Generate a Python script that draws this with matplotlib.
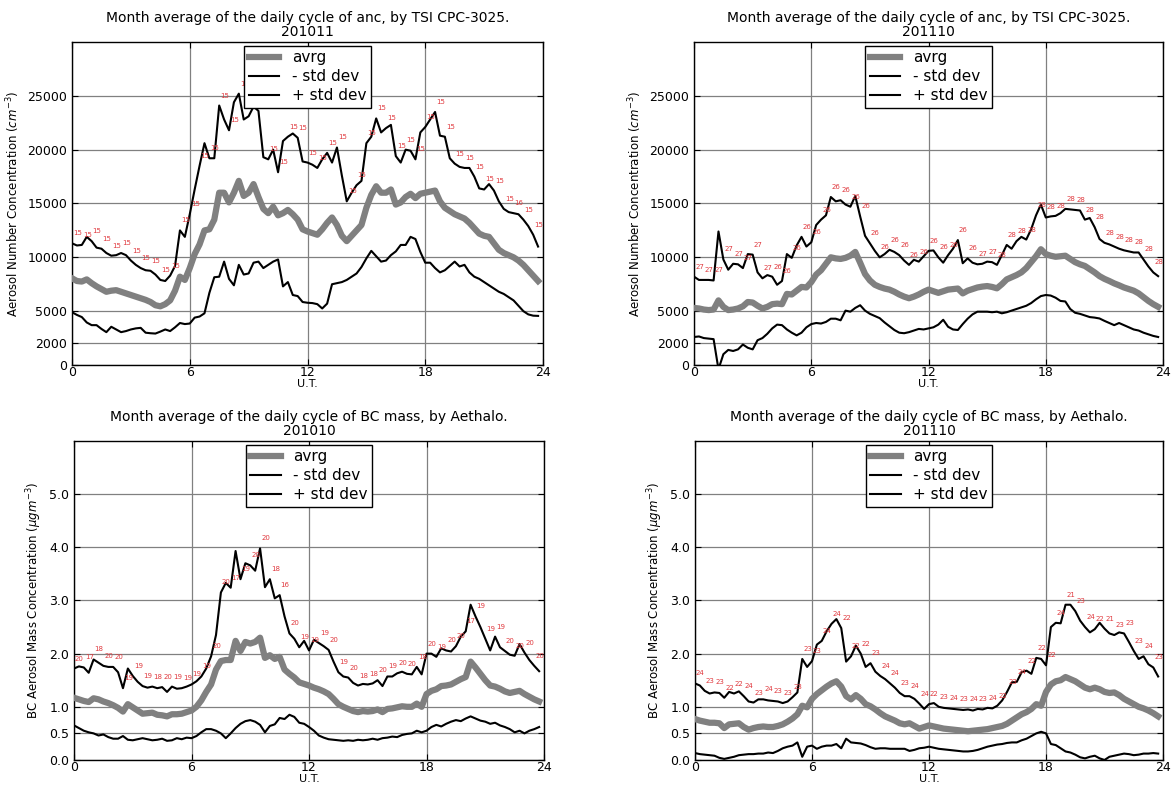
import numpy as np
import matplotlib
matplotlib.use('Agg')
import matplotlib.pyplot as plt

# time of day (U.T.), 15 min steps
hours = np.arange(96) * 0.25

# anc 201011 (TSI CPC-3025)
anc_201011_plus = [
    11300, 11100, 11150, 11900, 11500, 10900, 10800, 10400,
    10150, 10200, 10400, 10200, 9700, 9300, 9000, 8800,
    8750, 8400, 7900, 7800, 8300, 9200, 12500, 11900,
    14000, 16300, 18500, 20600, 19200, 19200, 24100, 22800,
    21800, 24400, 25200, 22800, 23100, 24000, 23600, 19300,
    19100, 20000, 17900, 20800, 21200, 21500, 21100, 18900,
    18800, 18600, 18300, 19100, 19700, 18800, 20200, 17600,
    15200, 16000, 16700, 17100, 20600, 21200, 22900, 21600,
    22000, 22300, 19400, 18800, 20000, 19900, 19100, 21600,
    22100, 22800, 23500, 21300, 21200, 19200, 18700, 18400,
    18300, 18300, 17500, 16400, 16300, 16800, 16200, 15200,
    14500, 14200, 14100, 14000, 13500, 12900, 12100, 11000]
anc_201011_avrg = [
    8050, 7800, 7750, 7950, 7600, 7300, 7050, 6800,
    6900, 6950, 6800, 6650, 6500, 6350, 6200, 6050,
    5850, 5550, 5450, 5650, 6000, 6900, 8200, 7900,
    9000, 10300, 11200, 12500, 12600, 13500, 16000, 16000,
    15100, 16000, 17100, 15700, 16000, 16800, 15600, 14500,
    14100, 14700, 13900, 14100, 14400, 14000, 13500, 12600,
    12400, 12250, 12100, 12600, 13200, 13700, 13000, 12000,
    11500, 12000, 12500, 13000, 14600, 15800, 16600, 16000,
    16000, 16300, 14900, 15100, 15600, 15900, 15500, 15900,
    16000, 16100, 16200, 15200, 14600, 14300, 14000, 13800,
    13600, 13200, 12700, 12200, 12000, 11900, 11300, 10700,
    10400, 10200, 10000, 9700, 9300, 8800, 8300, 7800]
anc_201011_minus = [
    4900, 4650, 4450, 3950, 3700, 3700, 3350, 3050,
    3550, 3300, 3050, 3150, 3300, 3400, 3450, 3000,
    2950, 2920, 3100, 3300, 3150, 3500, 3900, 3800,
    3850, 4400, 4500, 4800, 6700, 8150, 8200, 9600,
    8000, 7400, 9300, 8400, 8500, 9500, 9600, 9000,
    9300, 9600, 9800, 7300, 7700, 6500, 6400, 5850,
    5780, 5750, 5650, 5250, 5700, 7500, 7600, 7700,
    7900, 8200, 8500, 9100, 9900, 10600, 10100, 9600,
    9700, 10200, 10550, 11150, 11150, 11900, 11700, 10500,
    9500, 9500, 9000, 8600, 8800, 9200, 9600, 9150,
    9300, 8600, 8200, 8000, 7700, 7400, 7100, 6800,
    6600, 6300, 6000, 5500, 5000, 4700, 4580, 4560]
anc_201011_counts = [15] * 45 + [16, 15, 15]

# anc 201110
anc_201110_plus = [
    8200, 7900, 7900, 7900, 7850, 12400, 9800, 8850,
    9400, 9350, 9000, 10300, 10250, 8600, 8050, 8350,
    8200, 7450, 7800, 10300, 9950, 11100, 11900, 11000,
    11400, 13000, 13500, 13900, 15600, 15200, 15300, 14900,
    14700, 15700, 13800, 12000, 11300, 10600, 10000, 10300,
    10700, 10500, 10200, 9700, 9300, 9770, 9600, 10100,
    10600, 10640, 10000, 9500, 10200, 10800, 11600, 9450,
    9900, 9500, 9350, 9400, 9600, 9550, 9300, 10200,
    11150, 10800, 11500, 11900, 11650, 12600, 13900, 14900,
    13700, 13800, 13850, 14100, 14500, 14450, 14400, 14350,
    13500, 13650, 12800, 11700, 11350, 11200, 11000, 10800,
    10650, 10550, 10450, 10450, 9800, 9150, 8600, 8250]
anc_201110_avrg = [
    5300, 5250, 5150, 5100, 5150, 6000, 5400, 5100,
    5150, 5250, 5450, 5850, 5800, 5500, 5250, 5400,
    5650, 5700, 5650, 6600, 6550, 6900, 7250, 7200,
    7700, 8400, 8800, 9400, 10000, 9900, 9850, 9950,
    10150, 10500, 9500, 8450, 7850, 7450, 7250, 7100,
    7000, 6800, 6550, 6350, 6200, 6350, 6550, 6800,
    7000, 6850, 6700, 6850, 7000, 7050, 7100, 6650,
    6900, 7050, 7200, 7280, 7330, 7250, 7120, 7500,
    7950, 8150, 8350, 8600, 9000, 9550, 10100, 10750,
    10300, 10150, 10050, 10100, 10150, 9850, 9550, 9350,
    9200, 8900, 8600, 8250, 8000, 7800, 7580, 7400,
    7200, 7050, 6900, 6650, 6300, 5950, 5650, 5400]
anc_201110_minus = [
    2600, 2650, 2500, 2450, 2400, -400, 1000, 1400,
    1300, 1450, 1900, 1600, 1450, 2300, 2500, 2900,
    3400, 3750, 3700, 3300, 3000, 2750, 3000, 3500,
    3800, 3900, 3850, 4000, 4300, 4300, 4150, 5050,
    4950, 5300, 5550, 5050, 4750, 4550, 4350, 3950,
    3600, 3250, 3000, 2950, 3050, 3200, 3350, 3300,
    3400, 3500, 3750, 4200, 3550, 3300, 3250, 3800,
    4300, 4700, 4950, 4950, 4950, 4900, 4950, 4800,
    4900, 5050, 5200, 5350, 5500, 5750, 6100, 6400,
    6500, 6450, 6250, 5950, 5900, 5200, 4850, 4750,
    4600, 4450, 4400, 4320, 4100, 3900, 3700, 3900,
    3700, 3500, 3300, 3200, 3000, 2850, 2700, 2600]
anc_201110_counts = [27] * 8 + [26] * 21 + [27] * 2 + [28] * 17

# BC mass 201010 (Aethalometer)
bc_201010_plus = [
    1.72, 1.76, 1.74, 1.64, 1.89, 1.83, 1.77, 1.75,
    1.75, 1.65, 1.35, 1.72, 1.58, 1.47, 1.39, 1.36,
    1.38, 1.35, 1.37, 1.28, 1.38, 1.34, 1.35, 1.38,
    1.42, 1.48, 1.57, 1.72, 1.95, 2.35, 3.15, 3.33,
    3.24, 3.93, 3.40, 3.70, 3.66, 3.56, 3.98, 3.25,
    3.40, 3.04, 3.10, 2.70, 2.38, 2.28, 2.12, 2.24,
    2.06, 2.26, 2.20, 2.14, 2.07, 1.85, 1.65, 1.57,
    1.55, 1.45, 1.40, 1.43, 1.42, 1.44, 1.50, 1.39,
    1.57, 1.57, 1.63, 1.66, 1.62, 1.61, 1.75, 1.61,
    2.00, 2.00, 1.94, 2.10, 2.06, 2.04, 2.14, 2.32,
    2.42, 2.92, 2.70, 2.50, 2.28, 2.06, 2.32, 2.12,
    2.05, 1.98, 1.96, 2.18, 2.02, 1.88, 1.77, 1.67]
bc_201010_avrg = [
    1.17, 1.14, 1.11, 1.09, 1.16, 1.14, 1.10, 1.07,
    1.03, 0.98, 0.91, 1.05, 0.99, 0.93, 0.87, 0.88,
    0.89, 0.85, 0.84, 0.82, 0.86, 0.86, 0.87, 0.90,
    0.93, 1.00, 1.12, 1.28, 1.42, 1.70, 1.86, 1.88,
    1.88, 2.24, 2.05, 2.22, 2.19, 2.22, 2.30, 1.92,
    1.97, 1.90, 1.94, 1.70, 1.62, 1.55, 1.46, 1.43,
    1.40, 1.36, 1.33, 1.29, 1.24, 1.15, 1.05, 1.00,
    0.96, 0.92, 0.90, 0.92, 0.91, 0.92, 0.95, 0.90,
    0.96, 0.97, 0.99, 1.01, 1.00, 1.00, 1.06, 1.00,
    1.24, 1.30, 1.33, 1.39, 1.40, 1.42, 1.47, 1.52,
    1.56, 1.85, 1.74, 1.62, 1.50, 1.40, 1.38, 1.34,
    1.29, 1.26, 1.28, 1.30, 1.24, 1.19, 1.14, 1.10]
bc_201010_minus = [
    0.65, 0.60, 0.55, 0.52, 0.50, 0.46, 0.48, 0.43,
    0.40, 0.40, 0.45, 0.38, 0.37, 0.39, 0.41, 0.39,
    0.37, 0.38, 0.40, 0.36, 0.37, 0.41, 0.39, 0.42,
    0.41, 0.45, 0.52, 0.58, 0.58, 0.55, 0.50, 0.41,
    0.50, 0.60, 0.68, 0.73, 0.75, 0.72, 0.66, 0.52,
    0.64, 0.67, 0.79, 0.77, 0.85, 0.81, 0.70, 0.68,
    0.62, 0.55, 0.46, 0.42, 0.39, 0.38, 0.37, 0.36,
    0.37, 0.36, 0.38, 0.37, 0.38, 0.40, 0.38, 0.41,
    0.42, 0.44, 0.43, 0.47, 0.49, 0.50, 0.55, 0.52,
    0.55, 0.62, 0.66, 0.63, 0.68, 0.72, 0.75, 0.73,
    0.78, 0.82, 0.78, 0.74, 0.72, 0.68, 0.70, 0.65,
    0.62, 0.58, 0.52, 0.55, 0.50, 0.55, 0.58, 0.62]
bc_201010_counts = [
    20, 17, 18, 20, 20, 19, 19, 19, 18, 20, 19, 19,
    19, 19, 20, 20, 17, 19, 20, 20, 18, 16, 20, 19,
    19, 19, 20, 19, 20, 18, 18, 20, 19, 20, 20, 18,
    20, 19, 20, 20, 17, 19, 19, 19, 20, 20, 20, 20]

# BC mass 201110
bc_201110_plus = [
    1.44, 1.40, 1.30, 1.25, 1.27, 1.26, 1.17, 1.28,
    1.25, 1.29, 1.20, 1.10, 1.08, 1.14, 1.14, 1.12,
    1.11, 1.10, 1.07, 1.10, 1.18, 1.27, 1.90, 1.75,
    1.86, 2.17, 2.24, 2.42, 2.56, 2.65, 2.48, 1.85,
    1.95, 2.15, 2.00, 1.75, 1.82, 1.66, 1.58, 1.52,
    1.44, 1.36, 1.26, 1.20, 1.20, 1.15, 1.06, 0.96,
    1.05, 1.07, 1.00, 0.98, 0.97, 0.96, 0.95, 0.94,
    0.95, 0.93, 0.96, 0.95, 0.98, 0.97, 1.02, 1.12,
    1.28, 1.46, 1.47, 1.65, 1.68, 1.62, 1.92, 1.90,
    1.78, 2.50, 2.58, 2.57, 2.92, 2.92, 2.80, 2.62,
    2.50, 2.40, 2.46, 2.58, 2.47, 2.38, 2.35, 2.40,
    2.38, 2.22, 2.05, 1.90, 1.95, 1.80, 1.74, 1.57]
bc_201110_avrg = [
    0.77, 0.74, 0.72, 0.70, 0.70, 0.69, 0.60, 0.67,
    0.68, 0.69, 0.62, 0.57, 0.60, 0.62, 0.63, 0.62,
    0.62, 0.64, 0.67, 0.72, 0.78, 0.86, 1.02, 0.99,
    1.15, 1.24, 1.31, 1.38, 1.44, 1.48, 1.38, 1.20,
    1.14, 1.22, 1.15, 1.05, 1.01, 0.95, 0.88, 0.82,
    0.78, 0.74, 0.69, 0.67, 0.69, 0.64, 0.59, 0.62,
    0.65, 0.63, 0.61, 0.59, 0.58, 0.57, 0.56, 0.55,
    0.54, 0.55, 0.56, 0.57, 0.58, 0.60, 0.62, 0.64,
    0.68, 0.74, 0.80, 0.86, 0.90, 0.96, 1.05, 1.02,
    1.28, 1.42, 1.48, 1.50, 1.56, 1.52, 1.48, 1.42,
    1.36, 1.33, 1.36, 1.33, 1.28, 1.26, 1.27, 1.22,
    1.15, 1.10, 1.05, 1.00, 0.97, 0.93, 0.88, 0.82]
bc_201110_minus = [
    0.13, 0.11, 0.10, 0.09, 0.08, 0.04, 0.02, 0.04,
    0.06, 0.09, 0.10, 0.11, 0.11, 0.12, 0.12, 0.14,
    0.13, 0.17, 0.22, 0.25, 0.27, 0.33, 0.06, 0.25,
    0.27, 0.21, 0.25, 0.27, 0.27, 0.30, 0.22, 0.40,
    0.33, 0.32, 0.31, 0.28, 0.24, 0.21, 0.22, 0.22,
    0.21, 0.21, 0.21, 0.21, 0.17, 0.19, 0.22, 0.23,
    0.25, 0.23, 0.21, 0.20, 0.19, 0.18, 0.17, 0.16,
    0.16, 0.17, 0.19, 0.22, 0.25, 0.27, 0.29, 0.30,
    0.32, 0.33, 0.33, 0.37, 0.40, 0.45, 0.50, 0.53,
    0.50, 0.30, 0.28, 0.22, 0.16, 0.14, 0.10, 0.05,
    0.03, 0.06, 0.08, 0.03, 0.00, 0.06, 0.08, 0.10,
    0.12, 0.11, 0.09, 0.10, 0.12, 0.12, 0.13, 0.12]
bc_201110_counts = [
    24, 23, 23, 22, 22, 24, 23, 24, 23, 23, 23, 23,
    23, 24, 24, 22, 22, 22, 23, 24, 24, 23, 24, 24,
    22, 23, 24, 23, 24, 23, 24, 22, 23, 24, 22, 22,
    22, 24, 21, 23, 24, 22, 21, 23, 23, 23, 24, 23]

anc_title = 'Month average of the daily cycle of anc, by TSI CPC-3025.'
bc_title = 'Month average of the daily cycle of BC mass, by Aethalo.'
anc_ylabel = r'Aerosol Number Concentration ($cm^{-3}$)'
bc_ylabel = r'BC Aerosol Mass Concentration ($\mu gm^{-3}$)'
anc_yticks = [0, 2000, 5000, 10000, 15000, 20000, 25000]
bc_yticks = [0.0, 0.5, 1.0, 2.0, 3.0, 4.0, 5.0]
hour_ticks = [0, 6, 12, 18, 24]


def draw_panel(ax, avrg, minus, plus, counts, title, ylabel, yticks, ymax, fmt):
    ax.plot(hours, avrg, color='#808080', lw=4.5, label='avrg', zorder=3)
    ax.plot(hours, minus, color='k', lw=1.5, label='- std dev', zorder=4)
    ax.plot(hours, plus, color='k', lw=1.5, label='+ std dev', zorder=4)

    # number of days behind each half-hour value
    for h, v, n in zip(hours[::2], plus[::2], counts):
        ax.annotate(str(n), (h, v), xytext=(1, 10), textcoords='offset pixels',
                    fontsize=5, color='#e0393e', ha='left', va='center', zorder=5)

    ax.set_xlim(0, 24)
    ax.set_ylim(0, ymax)
    ax.set_xticks(hour_ticks)
    ax.set_yticks(yticks)
    ax.set_yticklabels([fmt % y for y in yticks])
    ax.grid(True, color='#808080', lw=0.9, ls='-')
    ax.set_axisbelow(True)
    ax.tick_params(direction='in', length=4, top=True, right=True, labelsize=9)
    ax.tick_params(axis='x', pad=1)
    for s in ax.spines.values():
        s.set_linewidth(1.0)
    ax.set_title(title, fontsize=10, pad=4, linespacing=1.05)
    ax.set_xlabel('U.T.', fontsize=8, labelpad=0)
    ax.set_ylabel(ylabel, fontsize=8.5)
    leg = ax.legend(loc='upper center', fontsize=11, fancybox=False, edgecolor='k',
                    framealpha=1, borderaxespad=0.25, borderpad=0.3,
                    labelspacing=0.25, handlelength=2.0, handletextpad=0.8)
    leg.get_frame().set_linewidth(1.0)
    leg.set_zorder(10)


fig = plt.figure(figsize=(11.71, 7.89), dpi=100)
ax_tl = fig.add_axes([0.0615, 0.5374, 0.4022, 0.4094])
ax_tr = fig.add_axes([0.5927, 0.5374, 0.4005, 0.4094])
ax_bl = fig.add_axes([0.0632, 0.0368, 0.4014, 0.4043])
ax_br = fig.add_axes([0.5935, 0.0368, 0.3997, 0.4043])

draw_panel(ax_tl, anc_201011_avrg, anc_201011_minus, anc_201011_plus, anc_201011_counts,
           anc_title + '\n201011', anc_ylabel, anc_yticks, 30000, '%d')
draw_panel(ax_tr, anc_201110_avrg, anc_201110_minus, anc_201110_plus, anc_201110_counts,
           anc_title + '\n201110', anc_ylabel, anc_yticks, 30000, '%d')
draw_panel(ax_bl, bc_201010_avrg, bc_201010_minus, bc_201010_plus, bc_201010_counts,
           bc_title + '\n201010', bc_ylabel, bc_yticks, 6, '%.1f')
draw_panel(ax_br, bc_201110_avrg, bc_201110_minus, bc_201110_plus, bc_201110_counts,
           bc_title + '\n201110', bc_ylabel, bc_yticks, 6, '%.1f')

fig.savefig('out.png', dpi=100)
